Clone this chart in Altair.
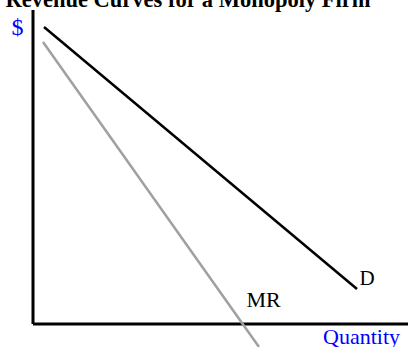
import altair as alt
import pandas as pd

# Demand and marginal revenue curves (quantity, price) in plot units
d_q = [11, 324]
d_p = [297, 35]
mr_q = [10, 226]
mr_p = [282, -23]

# Axis extents
y_axis_top = 314
x_axis_right = 375

# Labels (positions are text baselines)
label_text = ["D", "MR", "Quantity", "$"]
label_q = [334, 230.5, 328.5, -15.5]
label_p = [39, 17, -19.5, 289]
label_color = ["#000000", "#000000", "#0000ff", "#0000ff"]
label_size = [21, 22, 22, 24]

title_text = "Revenue Curves for a Monopoly Firm"
title_q = [155]
title_p = [317]

X = alt.Scale(domain=[-33, 377], nice=False, zero=False)
Y = alt.Scale(domain=[-23, 324], nice=False, zero=False)

def xenc(f):
    return alt.X(f, type="quantitative", scale=X, axis=None)

def yenc(f):
    return alt.Y(f, type="quantitative", scale=Y, axis=None)

curves = pd.DataFrame({
    "q": d_q + mr_q,
    "p": d_p + mr_p,
    "curve": ["D", "D", "MR", "MR"],
})

axes = pd.DataFrame({
    "x1": [0, 0], "y1": [0, 0],
    "x2": [0, x_axis_right], "y2": [y_axis_top, 0],
})

labels = pd.DataFrame({
    "text": label_text, "q": label_q, "p": label_p,
    "color": label_color, "size": label_size,
})

axis_layer = alt.Chart(axes).mark_rule(color="#000000", strokeWidth=3).encode(
    x=xenc("x1"), y=yenc("y1"),
    x2=alt.X2("x2"), y2=alt.Y2("y2"),
)

curve_layer = alt.Chart(curves).mark_line(strokeWidth=2.5).encode(
    x=xenc("q"), y=yenc("p"),
    detail="curve:N",
    color=alt.Color("curve:N", scale=alt.Scale(domain=["D", "MR"], range=["#000000", "#a0a0a0"]), legend=None),
)

label_layer = alt.Chart(labels).mark_text(
    font="Liberation Serif", align="center", baseline="alphabetic"
).encode(
    x=xenc("q"), y=yenc("p"), text="text:N",
    color=alt.Color("color:N", scale=None),
    size=alt.Size("size:Q", scale=None),
)

title_layer = alt.Chart(pd.DataFrame({"text": [title_text], "q": title_q, "p": title_p})).mark_text(
    font="Liberation Serif", fontWeight="bold", fontSize=22.5,
    align="center", baseline="alphabetic", color="#000000",
).encode(x=xenc("q"), y=yenc("p"), text="text:N")

chart = alt.layer(axis_layer, curve_layer, label_layer, title_layer).properties(
    width=410, height=347, padding=0, autosize=alt.AutoSizeParams(type="none"),
).configure_view(stroke=None)

chart.save("out.html", embed_options={"renderer": "svg", "actions": False})
